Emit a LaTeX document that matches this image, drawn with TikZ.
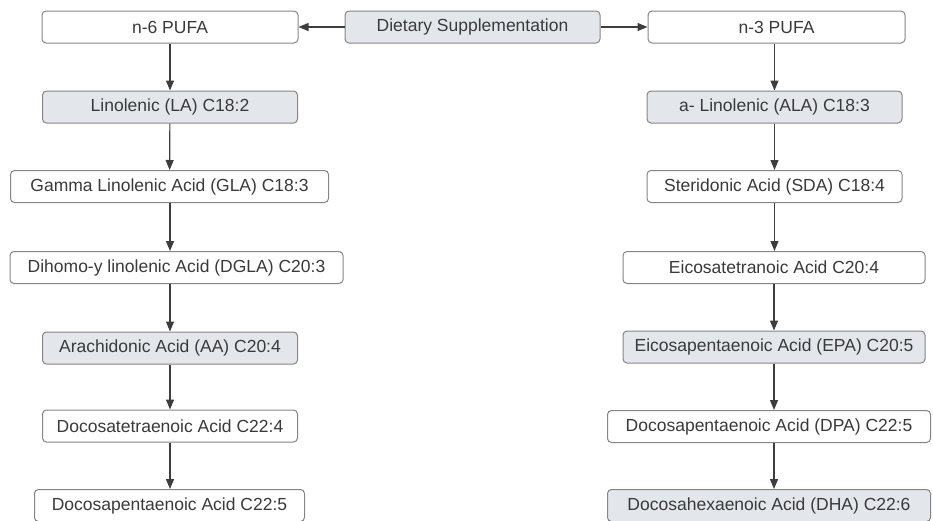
\documentclass[tikz,border=0pt]{standalone}
\usepackage{fontspec}
\setmainfont{Liberation Sans}
\usetikzlibrary{arrows.meta,calc}
\definecolor{boxfill}{HTML}{E3E6EB}
\definecolor{boxline}{HTML}{858585}
\definecolor{txt}{HTML}{3A3A3A}
\definecolor{arr}{HTML}{3D3D3D}
\tikzset{
  plainbox/.style={draw=boxline, line width=1pt, rounded corners=4pt, fill=white,
    text=txt, font=\fontsize{17.5}{20}\selectfont, minimum height=32pt, inner sep=0pt},
  greybox/.style={plainbox, fill=boxfill},
  flow/.style={draw=arr, line width=1.2pt, -{Triangle[width=8pt,length=10pt]}}
}
\begin{document}
\begin{tikzpicture}[x=1pt,y=-1pt]
\useasboundingbox (0,0) rectangle (933,520);
% top row
\node[plainbox, minimum width=256pt] (n6) at (170,27) {n-6 PUFA};
\node[greybox, minimum width=255pt] (diet) at (472.5,27) {Dietary Supplementation};
\node[plainbox, minimum width=257pt] (n3) at (776.5,27) {n-3 PUFA};
% left column
\node[greybox, minimum width=255pt] (la) at (170,107) {Linolenic (LA) C18:2};
\node[plainbox, minimum width=318pt] (gla) at (169.5,186.5) {Gamma Linolenic Acid (GLA) C18:3};
\node[plainbox, minimum width=333pt] (dgla) at (176.5,267.5) {Dihomo-y linolenic Acid (DGLA) C20:3};
\node[greybox, minimum width=255pt] (aa) at (170,348) {Arachidonic Acid (AA) C20:4};
\node[plainbox, minimum width=255pt] (dta) at (170,426) {Docosatetraenoic Acid C22:4};
\node[plainbox, minimum width=270pt] (dpal) at (169.5,505.5) {Docosapentaenoic Acid C22:5};
% right column
\node[greybox, minimum width=255pt] (ala) at (774.5,107) {a- Linolenic (ALA) C18:3};
\node[plainbox, minimum width=255pt] (sda) at (774.5,186.5) {Steridonic Acid (SDA) C18:4};
\node[plainbox, minimum width=302pt] (eta) at (774,267.5) {Eicosatetranoic Acid C20:4};
\node[greybox, minimum width=302pt] (epa) at (774,347) {Eicosapentaenoic Acid (EPA) C20:5};
\node[plainbox, minimum width=323pt] (dpa) at (769,426.5) {Docosapentaenoic Acid (DPA) C22:5};
\node[greybox, minimum width=323pt] (dha) at (769,505.5) {Docosahexaenoic Acid (DHA) C22:6};
% connectors
\draw[flow] (diet) -- (n6);
\draw[flow] (diet) -- (n3);
\draw[flow] (n6) -- (la);
\draw[flow] (la) -- (gla);
\draw[flow] (la.south |- gla.south) -- (la.south |- dgla.north);
\draw[flow] (la.south |- dgla.south) -- (aa);
\draw[flow] (aa) -- (dta);
\draw[flow] (dta) -- (dta.south |- dpal.north);
\draw[flow] (ala.north |- n3.south) -- (ala);
\draw[flow] (ala) -- (sda);
\draw[flow] (sda.south) -- (sda.south |- eta.north);
\draw[flow] (eta) -- (epa);
\draw[flow] (epa.south) -- (epa.south |- dpa.north);
\draw[flow] (epa.south |- dpa.south) -- (epa.south |- dha.north);
\end{tikzpicture}
\end{document}
